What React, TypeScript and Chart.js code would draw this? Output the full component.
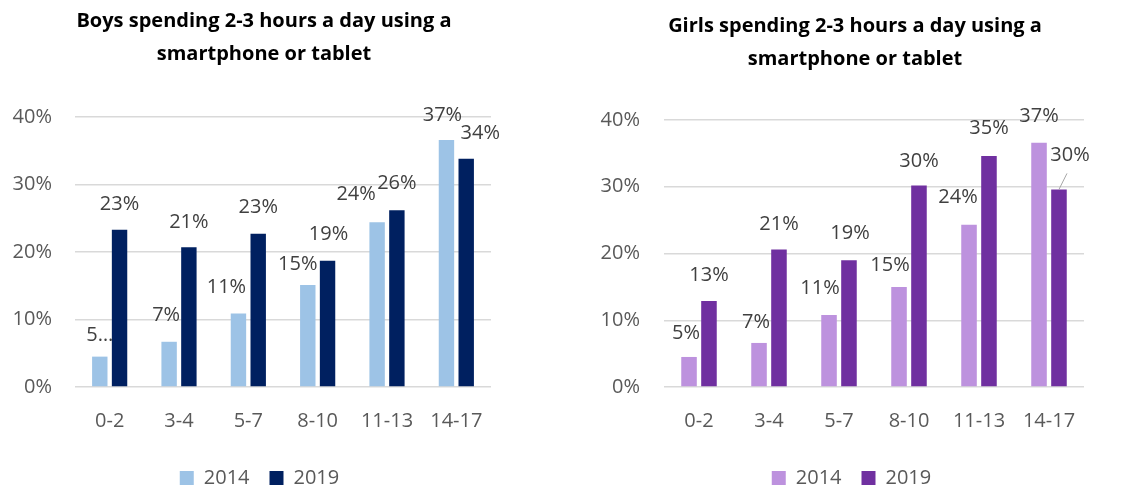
import React, { useEffect, useRef } from "react";
import { Chart, registerables } from "chart.js";

Chart.register(...registerables);

const FONT = "'Open Sans', 'Noto Sans', sans-serif";

// ---- data ----
const ageGroups = ["0-2", "3-4", "5-7", "8-10", "11-13", "14-17"];
const years = ["2014", "2019"];

const boys2014 = [4.5, 6.7, 10.9, 15.1, 24.4, 36.6];
const boys2019 = [23.3, 20.7, 22.7, 18.7, 26.2, 33.8];
const girls2014 = [4.5, 6.6, 10.8, 15.0, 24.3, 36.6];
const girls2019 = [12.9, 20.6, 19.0, 30.2, 34.6, 29.6];

const boys2014Labels = ["5…", "7%", "11%", "15%", "24%", "37%"];
const boys2019Labels = ["23%", "21%", "23%", "19%", "26%", "34%"];
const girls2014Labels = ["5%", "7%", "11%", "15%", "24%", "37%"];
const girls2019Labels = ["13%", "21%", "19%", "30%", "35%", "30%"];

const boysTitle = ["Boys spending 2-3 hours a day using a", "smartphone or tablet"];
const girlsTitle = ["Girls spending 2-3 hours a day using a", "smartphone or tablet"];

const yMax = 40;
const yStep = 10;

// ---- label placement nudges (pixels, styling only) ----
const boysDx = [
  [0, -3, -12, -10, -21, -4],
  [0, 0, 0, 1, 0, 14],
];
const boysDy = [
  [21, 26, 26, 21, 28, 25],
  [25, 25, 26, 26, 27, 26],
];
const girlsDx = [
  [-3, -3, -9, -9, -11, 0],
  [0, 0, 1, 0, 0, 11],
];
const girlsDy = [
  [24, 21, 27, 22, 28, 26],
  [26, 25, 27, 24, 28, 34],
];

const valueLabelPlugin = {
  id: "valueLabels",
  afterDatasetsDraw(chart: any, _args: any, opts: any) {
    const ctx = chart.ctx;
    ctx.save();
    ctx.font = `20px ${FONT}`;
    ctx.fillStyle = "#404040";
    ctx.textAlign = "center";
    ctx.textBaseline = "middle";
    chart.data.datasets.forEach((_ds: any, di: number) => {
      const meta = chart.getDatasetMeta(di);
      meta.data.forEach((el: any, i: number) => {
        const x = el.x + opts.dx[di][i];
        const y = el.y - opts.dy[di][i];
        ctx.fillText(opts.labels[di][i], x, y);
        if (opts.leader && opts.leader[0] === di && opts.leader[1] === i) {
          ctx.save();
          ctx.strokeStyle = "#a6a6a6";
          ctx.lineWidth = 1;
          ctx.beginPath();
          ctx.moveTo(x - 3, y + 18);
          ctx.lineTo(el.x, el.y);
          ctx.stroke();
          ctx.restore();
        }
      });
    });
    ctx.restore();
  },
};

const titlePlugin = {
  id: "twoLineTitle",
  afterDraw(chart: any, _args: any, opts: any) {
    const ctx = chart.ctx;
    ctx.save();
    ctx.font = `bold ${opts.size}px ${FONT}`;
    ctx.fillStyle = "#000000";
    ctx.textAlign = "center";
    ctx.textBaseline = "middle";
    opts.lines.forEach((line: string, i: number) => {
      ctx.fillText(line, opts.x, opts.y + i * opts.gap);
    });
    ctx.restore();
  },
};

const legendShiftPlugin = {
  id: "legendShift",
  afterLayout(chart: any, _args: any, opts: any) {
    const lg = chart.legend;
    if (lg && opts.shift) {
      lg.left += opts.shift;
      lg.right += opts.shift;
    }
  },
};

type PanelProps = {
  d2014: number[];
  d2019: number[];
  labels2014: string[];
  labels2019: string[];
  c2014: string;
  c2019: string;
  title: string[];
  titleX: number;
  titleY: number;
  dx: number[][];
  dy: number[][];
  padRight: number;
  padTop: number;
  yWidth: number;
  yPad: number;
  legendShift: number;
  leader?: number[];
};

function Panel(p: PanelProps) {
  const ref = useRef<HTMLCanvasElement>(null);
  useEffect(() => {
    const chart = new Chart(ref.current as HTMLCanvasElement, {
      type: "bar",
      data: {
        labels: ageGroups,
        datasets: [
          {
            label: years[0],
            data: p.d2014,
            backgroundColor: p.c2014,
            borderWidth: 0,
            categoryPercentage: 0.57,
            barPercentage: 0.78,
          },
          {
            label: years[1],
            data: p.d2019,
            backgroundColor: p.c2019,
            borderWidth: 0,
            categoryPercentage: 0.57,
            barPercentage: 0.78,
          },
        ],
      },
      options: {
        animation: false,
        responsive: false,
        devicePixelRatio: 1,
        layout: {
          padding: { left: 0, right: p.padRight, top: p.padTop, bottom: -8 },
        },
        scales: {
          x: {
            grid: { display: false, drawTicks: false },
            border: { display: false },
            ticks: { font: { family: FONT, size: 20 }, color: "#595959", padding: 22 },
            afterFit: (s: any) => {
              s.height = 61;
            },
          },
          y: {
            min: 0,
            max: yMax,
            ticks: {
              stepSize: yStep,
              callback: (v: any) => `${v}%`,
              font: { family: FONT, size: 20 },
              color: "#595959",
              padding: p.yPad,
            },
            grid: { color: "#d9d9d9", lineWidth: 1.5, drawTicks: false },
            border: { display: false },
            afterFit: (s: any) => {
              s.width = p.yWidth;
            },
          },
        },
        plugins: {
          legend: {
            position: "bottom",
            labels: {
              boxWidth: 14,
              boxHeight: 14,
              padding: 20,
              font: { family: FONT, size: 20 },
              color: "#595959",
            },
          },
          tooltip: { enabled: false },
          valueLabels: {
            labels: [p.labels2014, p.labels2019],
            dx: p.dx,
            dy: p.dy,
            leader: p.leader,
          },
          twoLineTitle: { lines: p.title, x: p.titleX, y: p.titleY, gap: 33, size: 20 },
          legendShift: { shift: p.legendShift },
        } as any,
      },
      plugins: [valueLabelPlugin, titlePlugin, legendShiftPlugin],
    } as any);
    return () => chart.destroy();
  }, []);
  return (
    <canvas
      ref={ref}
      width={573}
      height={490}
      style={{ display: "block", width: 573, height: 490 }}
    />
  );
}

export default function App() {
  return (
    <div
      style={{
        position: "absolute",
        left: 0,
        top: 0,
        width: 1146,
        height: 490,
        display: "flex",
        background: "#ffffff",
        overflow: "hidden",
      }}
    >
      <Panel
        d2014={boys2014}
        d2019={boys2019}
        labels2014={boys2014Labels}
        labels2019={boys2019Labels}
        c2014="#9DC3E6"
        c2019="#002060"
        title={boysTitle}
        titleX={264}
        titleY={21}
        dx={boysDx}
        dy={boysDy}
        padRight={82}
        padTop={117}
        yWidth={75}
        yPad={23}
        legendShift={14}
      />
      <Panel
        d2014={girls2014}
        d2019={girls2019}
        labels2014={girls2014Labels}
        labels2019={girls2019Labels}
        c2014="#BD92DE"
        c2019="#7030A0"
        title={girlsTitle}
        titleX={282}
        titleY={26}
        dx={girlsDx}
        dy={girlsDy}
        padRight={62}
        padTop={120}
        yWidth={91}
        yPad={24}
        legendShift={23}
        leader={[1, 5]}
      />
    </div>
  );
}
